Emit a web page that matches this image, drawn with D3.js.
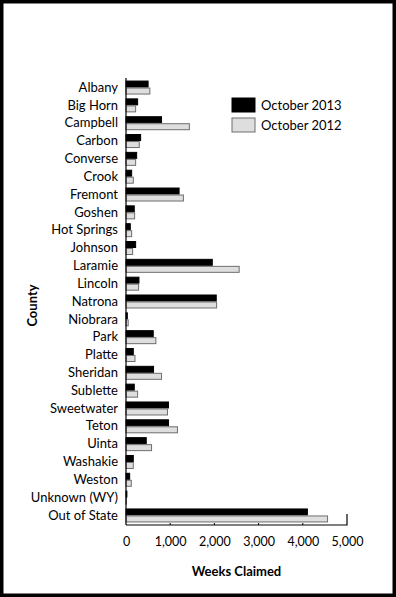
<!DOCTYPE html>
<html>
<head>
<meta charset="utf-8">
<script src="https://cdn.jsdelivr.net/npm/d3@7"></script>
<style>
  body { margin: 0; background: #fff; }
  text { font-family: Lato, "Open Sans", sans-serif; fill: #000; }
</style>
</head>
<body>
<div class="chart"></div>
<script>
var svgWidth = 396;
var svgHeight = 597;

// data
var counties = ["Albany", "Big Horn", "Campbell", "Carbon", "Converse", "Crook", "Fremont",
  "Goshen", "Hot Springs", "Johnson", "Laramie", "Lincoln", "Natrona", "Niobrara", "Park",
  "Platte", "Sheridan", "Sublette", "Sweetwater", "Teton", "Uinta", "Washakie", "Weston",
  "Unknown (WY)", "Out of State"];
var oct2013 = [500, 263, 804, 331, 241, 128, 1201, 187, 97, 218, 1952, 293, 2042, 30, 616,
  165, 623, 187, 961, 961, 458, 165, 83, 20, 4104];
var oct2012 = [540, 218, 1434, 300, 218, 165, 1299, 195, 128, 150, 2560, 285, 2050, 50, 676,
  203, 804, 263, 938, 1164, 578, 165, 120, 10, 4560];
var seriesNames = ["October 2013", "October 2012"];
var xTicks = [0, 1000, 2000, 3000, 4000, 5000];

var data = counties.map(function(c, i) {
  return { county: c, values: [oct2013[i], oct2012[i]] };
});

var svg = d3.select(".chart")
  .append("svg")
  .attr("width", svgWidth)
  .attr("height", svgHeight);

// frame
svg.append("rect")
  .attr("x", 1.75).attr("y", 1.75)
  .attr("width", svgWidth - 3.5).attr("height", svgHeight - 3.5)
  .attr("fill", "none")
  .attr("stroke", "#000")
  .attr("stroke-width", 3.5);

var plotLeft = 126, plotRight = 347, plotTop = 78, plotBottom = 525;

var xScale = d3.scaleLinear().domain([0, 5000]).range([plotLeft, plotRight]);
var yScale = d3.scaleBand().domain(counties).range([plotTop, plotBottom])
  .paddingInner(0.215).paddingOuter(0.143);
var ySub = d3.scaleBand().domain([0, 1]).range([0, yScale.bandwidth()]);

var colors = ["#000", "#dedede"];
var strokes = ["#000", "#6e6e6e"];

var groups = svg.append("g").selectAll("g")
  .data(data)
  .enter()
  .append("g")
  .attr("transform", function(d) { return "translate(0," + yScale(d.county) + ")"; });

groups.selectAll("rect")
  .data(function(d) { return d.values; })
  .enter()
  .append("rect")
  .attr("x", xScale(0))
  .attr("y", function(d, i) { return ySub(i) + 0.5; })
  .attr("width", function(d) { return Math.max(0, xScale(d) - xScale(0)); })
  .attr("height", ySub.bandwidth() - 1)
  .attr("fill", function(d, i) { return colors[i]; })
  .attr("stroke", function(d, i) { return strokes[i]; })
  .attr("stroke-width", 1);

// y axis (labels only + line)
var leftAxis = d3.axisLeft(yScale).tickSize(0).tickPadding(8);
var yAxisG = svg.append("g")
  .attr("transform", "translate(" + plotLeft + ",0)")
  .call(leftAxis);
yAxisG.select(".domain").remove();
yAxisG.selectAll("text")
  .attr("font-size", 13)
  .attr("font-family", "Lato, sans-serif");

svg.append("line")
  .attr("x1", plotLeft).attr("x2", plotLeft)
  .attr("y1", plotTop).attr("y2", plotBottom)
  .attr("stroke", "#000").attr("stroke-width", 1.2);

// x axis
var bottomAxis = d3.axisBottom(xScale)
  .tickValues(xTicks)
  .tickSize(0)
  .tickPadding(12)
  .tickFormat(d3.format(","));
var xAxisG = svg.append("g")
  .attr("transform", "translate(0," + plotBottom + ")")
  .call(bottomAxis);
xAxisG.select(".domain").remove();
xAxisG.selectAll("text")
  .attr("font-size", 12.5)
  .attr("font-family", "Lato, sans-serif");

// baseline with end tick
svg.append("path")
  .attr("d", "M" + plotLeft + "," + plotBottom + "H" + xScale(5000) + "V" + (plotBottom - 11))
  .attr("fill", "none")
  .attr("stroke", "#000")
  .attr("stroke-width", 1.2);
svg.selectAll(".minor")
  .data(xTicks.slice(1, -1))
  .enter()
  .append("line")
  .attr("x1", function(d) { return xScale(d); })
  .attr("x2", function(d) { return xScale(d); })
  .attr("y1", plotBottom).attr("y2", plotBottom - 2)
  .attr("stroke", "#000");

// axis titles
svg.append("text")
  .attr("transform", "rotate(-90)")
  .attr("x", -(plotTop + plotBottom) / 2 - 4)
  .attr("y", 37)
  .attr("text-anchor", "middle")
  .attr("font-size", 13)
  .attr("font-weight", "bold")
  .text("County");

svg.append("text")
  .attr("x", (plotLeft + plotRight) / 2)
  .attr("y", 576)
  .attr("text-anchor", "middle")
  .attr("font-size", 13)
  .attr("font-weight", "bold")
  .text("Weeks Claimed");

// legend
var legend = svg.append("g").selectAll("g")
  .data(seriesNames)
  .enter()
  .append("g")
  .attr("transform", function(d, i) { return "translate(232," + (98 + i * 20) + ")"; });
legend.append("rect")
  .attr("width", 23).attr("height", 14)
  .attr("fill", function(d, i) { return colors[i]; })
  .attr("stroke", function(d, i) { return strokes[i]; });
legend.append("text")
  .attr("x", 29).attr("y", 11.5)
  .attr("font-size", 13)
  .text(function(d) { return d; });
</script>
</body>
</html>
